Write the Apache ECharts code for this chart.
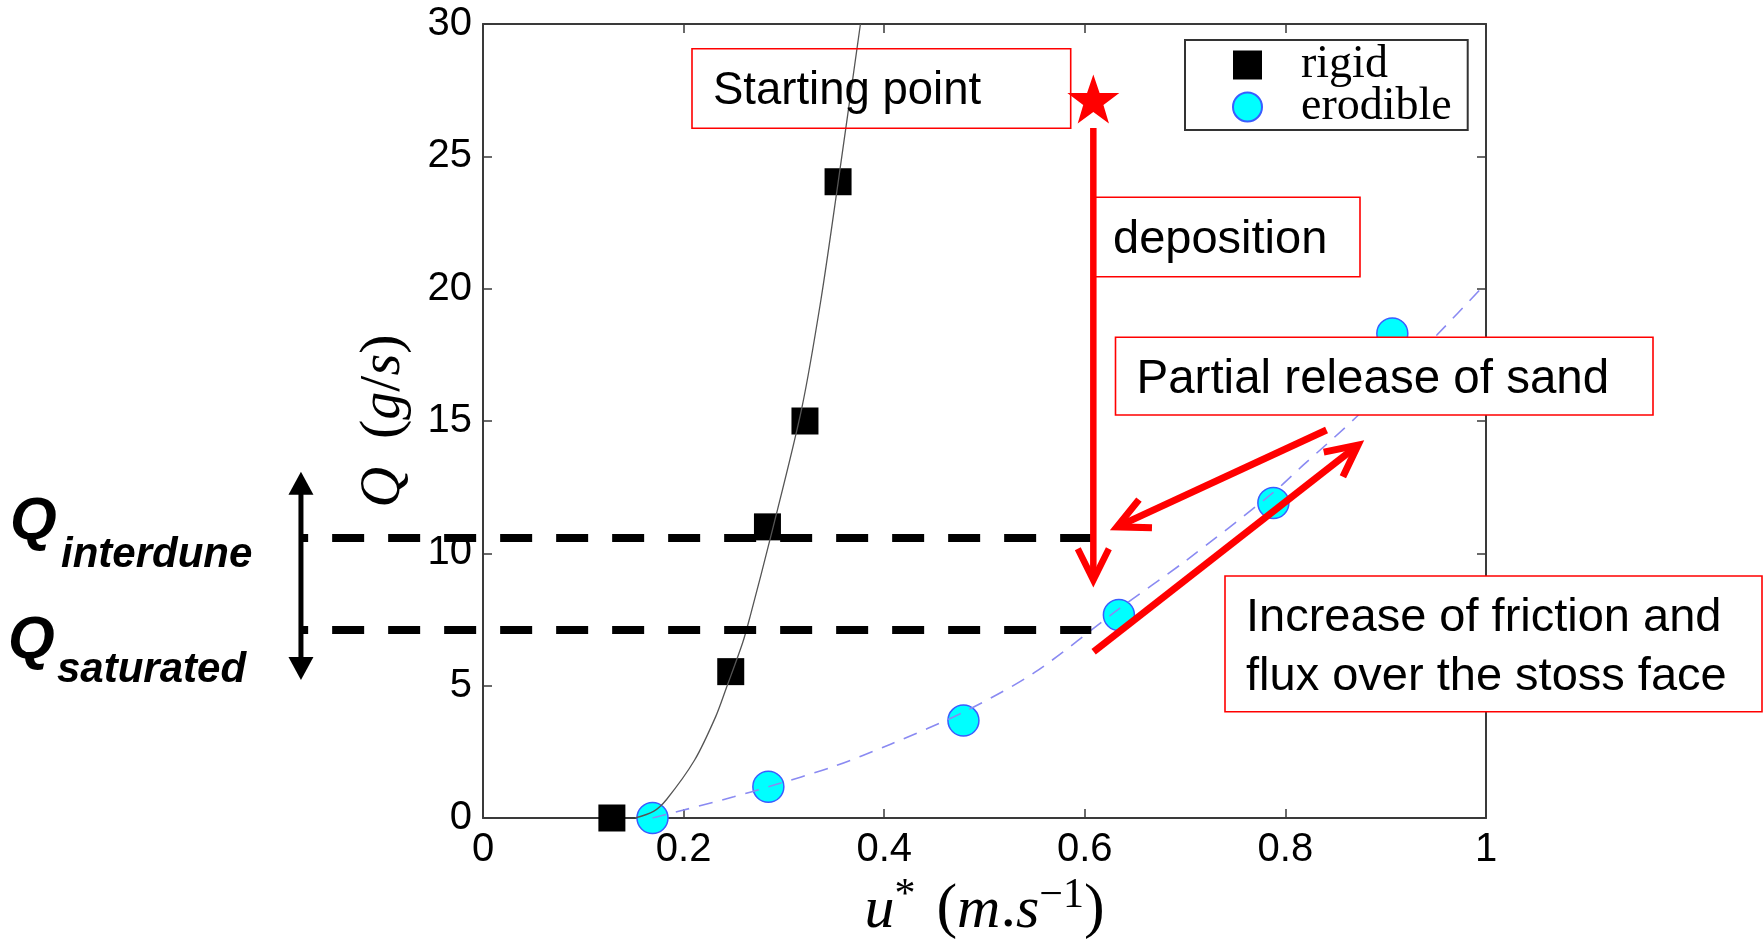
<!DOCTYPE html>
<html><head><meta charset="utf-8">
<script src="https://cdn.jsdelivr.net/npm/echarts@6/dist/echarts.min.js"></script>
<style>html,body{margin:0;padding:0;background:#fff}#c{width:1764px;height:939px}</style>
</head><body><div id="c"></div>
<script>
// ---- data ----
const xTicks = [0, 0.2, 0.4, 0.6, 0.8, 1];
const yTicks = [0, 5, 10, 15, 20, 25, 30];
const rigidU = [0.1285, 0.247, 0.2836, 0.321, 0.354];
const rigidQ = [0, 5.53, 11.0, 15.0, 24.04];
const erodU = [0.169, 0.2845, 0.479, 0.634, 0.788, 0.9066];
const erodQ = [0, 1.18, 3.68, 7.67, 11.9, 18.31];
const rigidFitU = [0.1515, 0.17, 0.183, 0.211, 0.232, 0.2425, 0.2587, 0.2662, 0.288, 0.3179, 0.337, 0.354, 0.3763];
const rigidFitQ = [0, 0.25, 0.7, 2.19, 3.83, 4.9, 6.6, 7.6, 10.8, 15.5, 19.6, 24.0, 30];
const erodFitU = [0.169, 0.2, 0.25, 0.2845, 0.35, 0.407, 0.479, 0.55, 0.634, 0.7, 0.788, 0.818, 0.871, 0.951, 1.0];
const erodFitQ = [0, 0.3, 0.8, 1.18, 1.95, 2.8, 4.0, 5.5, 7.9, 9.7, 12.3, 13.34, 15.16, 18.25, 20.2];
const startU = [0.6085];
const startQ = [27.17];
const levelQ = [10.58, 7.1];          // Q_interdune, Q_saturated
const levelSpanU = [-0.182, 0.6065];
const rangeArrowU = -0.1815;
const rangeArrowQ = [13.08, 5.21];
const depositionArrow = [0.6085, 26.07, 0.6085, 8.99];
const releaseArrow = [0.841, 14.66, 0.6321, 11.0];
const increaseArrow = [0.6088, 6.28, 0.8724, 14.09];

const zip = (a, b) => a.map((v, i) => [v, b[i]]);
const chart = echarts.init(document.getElementById('c'));
const AX = '#3a3a3a';
const sans = '"Liberation Sans", Arial, sans-serif';
const serif = '"Liberation Serif", "Times New Roman", serif';
const starPath = 'path://M50,0 L61.8,35.1 L98.9,35.1 L69,57.3 L79.4,91.9 L50,70.6 L20.6,91.9 L31,57.3 L1.1,35.1 L38.2,35.1 Z';
const NB = '\u00a0';

function xAx(pos, labels) {
  return {
    type: 'value', position: pos, min: xTicks[0], max: xTicks[xTicks.length - 1], interval: 0.2,
    axisLine: { show: true, onZero: false, lineStyle: { color: AX, width: 2 } },
    axisTick: { show: true, inside: true, length: 9, lineStyle: { color: AX, width: 1.5 } },
    axisLabel: { show: labels, color: '#000', fontFamily: sans, fontSize: 40, margin: 12,
      formatter: v => String(v) },
    splitLine: { show: false }
  };
}
function yAx(pos, labels) {
  return {
    type: 'value', position: pos, min: yTicks[0], max: yTicks[yTicks.length - 1], interval: 5,
    axisLine: { show: true, onZero: false, lineStyle: { color: AX, width: 2 } },
    axisTick: { show: true, inside: true, length: 9, lineStyle: { color: AX, width: 1.5 } },
    axisLabel: { show: labels, color: '#000', fontFamily: sans, fontSize: 40, margin: 11 },
    splitLine: { show: false }
  };
}
const xa = xAx('bottom', true);
xa.name = '{i|u}{sup|*' + NB + NB + '}{n|(}{i|m}{n|.}{i|s}{sup|−1}{n|)}';
xa.nameLocation = 'middle';
xa.nameGap = 54;
xa.nameTextStyle = { color: '#000', rich: {
  i: { fontFamily: serif, fontStyle: 'italic', fontSize: 60, color: '#000', verticalAlign: 'bottom', lineHeight: 66 },
  n: { fontFamily: serif, fontSize: 62, color: '#000', verticalAlign: 'bottom', lineHeight: 66 },
  sup: { fontFamily: serif, fontSize: 42, color: '#000', verticalAlign: 'top', lineHeight: 66 }
}};
const ya = yAx('left', true);
ya.name = '{i|Q' + NB + NB + '}{n|(}{i|g}{n|/}{i|s}{n|)}';
ya.nameLocation = 'middle';
ya.nameGap = 70;
ya.nameTextStyle = { color: '#000', rich: {
  i: { fontFamily: serif, fontStyle: 'italic', fontSize: 56, color: '#000' },
  n: { fontFamily: serif, fontSize: 58, color: '#000' }
}};

chart.setOption({
  animation: false,
  backgroundColor: '#fff',
  grid: { left: 483, top: 24, right: 278, bottom: 121, containLabel: false, outerBoundsMode: 'none' },
  xAxis: [xa, xAx('top', false)],
  yAxis: [ya, yAx('right', false)],
  legend: {
    left: 1185, top: 40, orient: 'vertical',
    padding: [2, 16, 0, 47], itemGap: -4, itemWidth: 29, itemHeight: 29,
    borderColor: '#333', borderWidth: 2, backgroundColor: '#fff',
    textStyle: { fontFamily: serif, fontSize: 46, color: '#000', padding: [0, 0, 0, 34] },
    data: [{ name: 'rigid', icon: 'rect' }, { name: 'erodible', icon: 'circle' }]
  },
  series: [
    { name: 'rigid', type: 'scatter', data: zip(rigidU, rigidQ), symbol: 'rect', symbolSize: 27,
      itemStyle: { color: '#000', opacity: 1 }, z: 3 },
    { name: 'erodible', type: 'scatter', data: zip(erodU, erodQ), symbol: 'circle', symbolSize: 31,
      itemStyle: { color: '#00ffff', borderColor: '#3a5cff', borderWidth: 1.5, opacity: 1 }, z: 3 },
    { name: 'rigid fit', type: 'line', data: zip(rigidFitU, rigidFitQ), showSymbol: false, smooth: 0.3,
      lineStyle: { color: '#555', width: 1.3 }, z: 4, clip: true },
    { name: 'erodible fit', type: 'line', data: zip(erodFitU, erodFitQ), showSymbol: false, smooth: 0.3,
      lineStyle: { color: '#8a8af2', width: 1.6, type: [14, 10] }, z: 4, clip: true },
    { name: 'start', type: 'scatter', data: zip(startU, startQ), symbol: starPath, symbolSize: [52, 49],
      itemStyle: { color: '#ff0000', opacity: 1 }, z: 5 }
  ]
});

const px = (u, q) => chart.convertToPixel({ xAxisIndex: 0, yAxisIndex: 0 }, [u, q]);
const RED = '#ff0000';
const g = [];

function openArrow(a, w) {
  const p1 = px(a[0], a[1]), p2 = px(a[2], a[3]);
  const ang = Math.atan2(p2[1] - p1[1], p2[0] - p1[0]);
  const L = 35, h = 0.46;
  const w1 = [p2[0] - L * Math.cos(ang - h), p2[1] - L * Math.sin(ang - h)];
  const w2 = [p2[0] - L * Math.cos(ang + h), p2[1] - L * Math.sin(ang + h)];
  g.push({ type: 'line', z: 200, shape: { x1: p1[0], y1: p1[1], x2: p2[0] - 3 * Math.cos(ang), y2: p2[1] - 3 * Math.sin(ang) },
    style: { stroke: RED, lineWidth: w, lineCap: 'butt' } });
  g.push({ type: 'polyline', z: 200, shape: { points: [w1, p2, w2] },
    style: { stroke: RED, lineWidth: w, fill: null, lineJoin: 'miter', miterLimit: 10 } });
}

// dashed Q levels
levelQ.forEach(q => {
  const a = px(levelSpanU[0], q), b = px(levelSpanU[1], q);
  g.push({ type: 'line', z: 150, shape: { x1: a[0], y1: a[1], x2: b[0], y2: b[1] },
    style: { stroke: '#000', lineWidth: 8, lineDash: [32, 24], lineDashOffset: 24.3, lineCap: 'butt' } });
});
// double arrow
{
  const t = px(rangeArrowU, rangeArrowQ[0]), b = px(rangeArrowU, rangeArrowQ[1]);
  g.push({ type: 'line', z: 160, shape: { x1: t[0], y1: t[1] + 20, x2: b[0], y2: b[1] - 20 },
    style: { stroke: '#000', lineWidth: 5 } });
  g.push({ type: 'polygon', z: 160, shape: { points: [[t[0], t[1]], [t[0] - 12.5, t[1] + 23], [t[0] + 12.5, t[1] + 23]] },
    style: { fill: '#000' } });
  g.push({ type: 'polygon', z: 160, shape: { points: [[b[0], b[1]], [b[0] - 12.5, b[1] - 23], [b[0] + 12.5, b[1] - 23]] },
    style: { fill: '#000' } });
}

// text boxes
function box(x, y, w, h, fill) {
  g.push({ type: 'rect', z: 180, shape: { x, y, width: w, height: h },
    style: { fill: fill ? '#fff' : null, stroke: RED, lineWidth: 1.6 } });
}
function txt(s, x, y, size, extra) {
  g.push(Object.assign({ type: 'text', z: 190, x, y,
    style: Object.assign({ text: s, fontFamily: sans, fontSize: size, fill: '#000', align: 'left', verticalAlign: 'middle' }, extra || {}) }));
}
box(692, 48.7, 378.7, 79.6, false);
txt('Starting point', 713, 91, 45.5);
box(1093, 197.3, 267, 79.4, true);
txt('deposition', 1113, 240, 47);
box(1115.5, 337.3, 537.5, 77.7, true);
txt('Partial release of sand', 1136.5, 380, 47.5);
box(1225, 576, 537, 135.7, true);
txt('Increase of friction and', 1246, 618, 47);
txt('flux over the stoss face', 1246, 677, 47);

openArrow(depositionArrow, 6.5);
openArrow(releaseArrow, 7);
openArrow(increaseArrow, 7);

// Q labels
const bi = { fontWeight: 'bold', fontStyle: 'italic' };
txt('Q', 10, 522, 60, bi);
txt('interdune', 61, 555, 42, bi);
txt('Q', 8, 641, 60, bi);
txt('saturated', 57, 670, 42, bi);

chart.setOption({ graphic: g });
</script>
</body></html>
